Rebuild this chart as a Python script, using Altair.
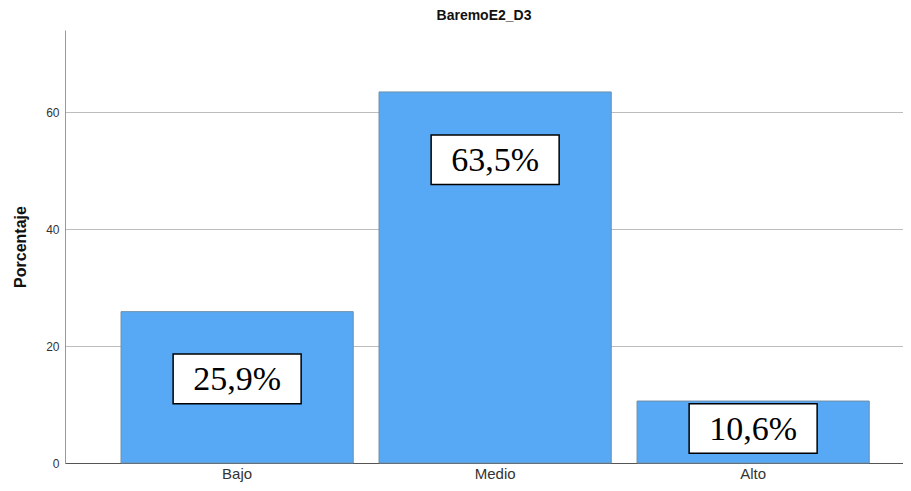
import altair as alt
import pandas as pd

categories = ["Bajo", "Medio", "Alto"]
percentages = [25.9, 63.5, 10.6]
label_texts = ["25,9%", "63,5%", "10,6%"]

# layout constants for the hand-placed label boxes
LABEL_DROP = [11.5, 11.6, 4.7]   # box centre below bar top, in % units
BOX_HALF = 4.25

df = pd.DataFrame({
    "cat": categories,
    "pct": percentages,
    "label": label_texts,
})
df["ly"] = [p - d for p, d in zip(percentages, LABEL_DROP)]
df["ly0"] = df["ly"] - BOX_HALF
df["ly1"] = df["ly"] + BOX_HALF

xscale = alt.Scale(domain=categories, paddingInner=0.1, paddingOuter=0.174, align=0.624)
yscale = alt.Scale(domain=[0, 74.1], nice=False)

x = alt.X("cat:N", scale=xscale, sort=categories,
          axis=alt.Axis(title=None, labelAngle=0, ticks=False, domain=True,
                        domainColor="#555555", labelFont="Liberation Sans",
                        labelFontSize=15, labelColor="#333333", labelPadding=3))

bars = alt.Chart(df).mark_bar(color="#57A9F5", stroke="#6f8fa8", strokeWidth=1).encode(
    x=x,
    y=alt.Y("pct:Q", scale=yscale,
            axis=alt.Axis(title="Porcentaje", values=[0, 20, 40, 60], ticks=False,
                          grid=True, gridColor="#bdbdbd", gridWidth=1,
                          domainColor="#999999", labelFont="Liberation Sans",
                          labelFontSize=12, labelColor="#333333", labelPadding=6,
                          titleFont="Liberation Sans", titleFontSize=16,
                          titleFontWeight="bold", titleColor="#111111",
                          titleX=-37)),
)

boxes = alt.Chart(df).mark_bar(width=128, fill="white", stroke="black", strokeWidth=1.5).encode(
    x=alt.X("cat:N", scale=xscale, sort=categories),
    y=alt.Y("ly0:Q", scale=yscale),
    y2="ly1:Q",
)

texts = alt.Chart(df).mark_text(font="Liberation Serif", fontSize=34, color="black",
                                baseline="middle", dy=1).encode(
    x=alt.X("cat:N", scale=xscale, sort=categories),
    y=alt.Y("ly:Q", scale=yscale),
    text="label:N",
)

chart = alt.layer(bars, boxes, texts).properties(
    width=838, height=433,
    title=alt.TitleParams("BaremoE2_D3", font="Liberation Sans", fontSize=14,
                          fontWeight="bold", color="#111111", anchor="middle", offset=7),
    autosize=alt.AutoSizeParams(type="none"),
    padding={"left": 57, "top": 22, "right": 0, "bottom": 20},
).configure_view(stroke=None)

chart.save("out.html", embed_options={"renderer": "svg", "actions": False})
